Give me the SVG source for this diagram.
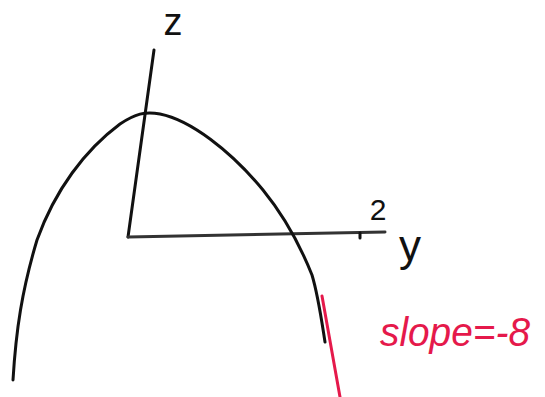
<svg xmlns="http://www.w3.org/2000/svg" width="545" height="397" viewBox="0 0 545 397">
<style>
.ink{fill:none;stroke:#111;stroke-width:3;stroke-linecap:round;stroke-linejoin:round}
.axis{fill:none;stroke:#333;stroke-width:3;stroke-linecap:round}
.lbl{font-family:"Liberation Sans",Arial,sans-serif;fill:#111}
.red{font-family:"Liberation Sans",Arial,sans-serif;fill:#e5194b;font-style:italic}
</style>
<rect width="545" height="397" fill="#fff"/>
<g id="axes">
<path class="ink" d="M154,50 L128,237"/>
<path class="axis" d="M128,237 L385,232"/>
<path class="ink" d="M360,233 L360,238"/>
</g>
<g id="curve">
<path class="ink" d="M13,380 C16,330 22,290 37,240 C55,190 85,150 120,124 C135,114 145,111 160,114 C190,120 230,150 263,190 C285,217 300,245 312,275 C318,295 320,310 325,342"/>
</g>
<g id="tangent">
<path fill="none" stroke="#e5194b" stroke-width="3" stroke-linecap="round" d="M322,296 L340,397"/>
</g>
<g id="labels">
<text class="lbl" x="173" y="35" font-size="38" text-anchor="middle">z</text>
<text class="lbl" x="378" y="220" font-size="30" text-anchor="middle">2</text>
<text class="lbl" x="410" y="261" font-size="44" text-anchor="middle">y</text>
<text class="red" x="380" y="346" font-size="40" textLength="150" lengthAdjust="spacingAndGlyphs">slope=-8</text>
</g>
</svg>
